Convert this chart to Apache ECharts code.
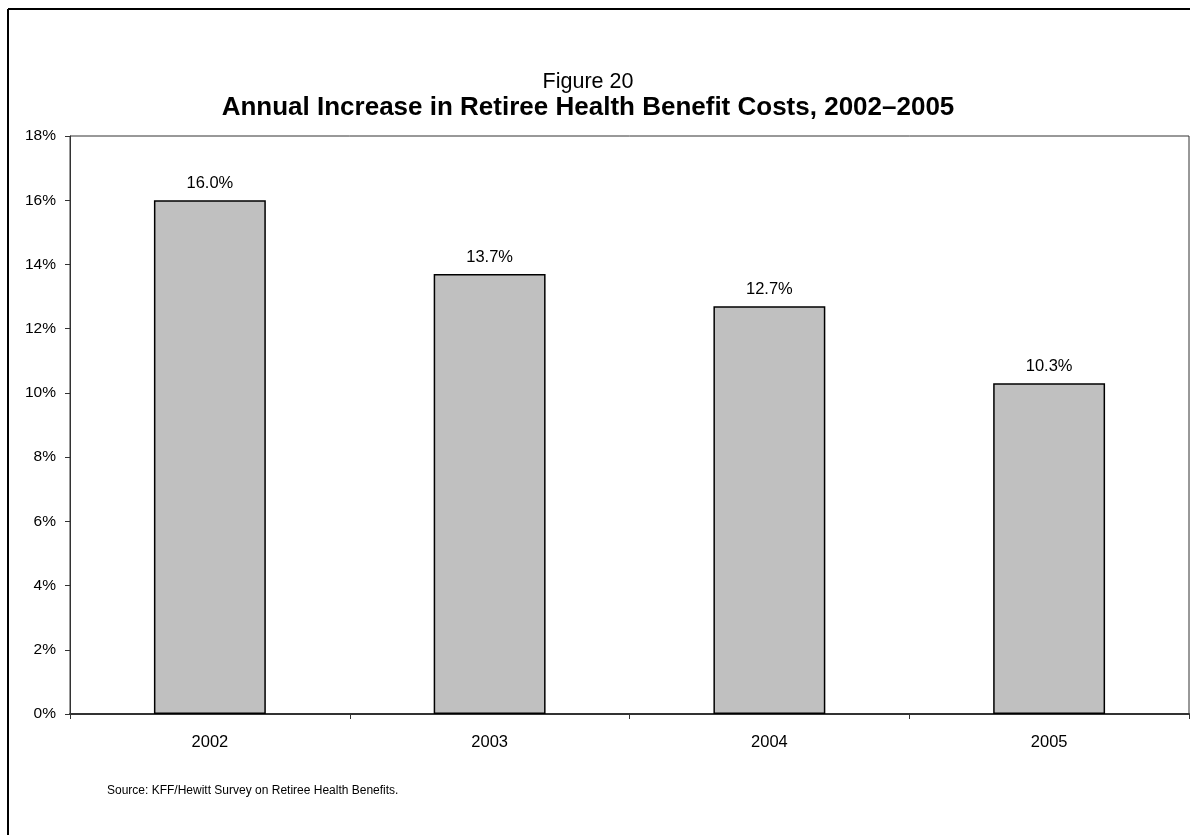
<!DOCTYPE html>
<html><head><meta charset="utf-8">
<script src="https://cdn.jsdelivr.net/npm/echarts@6/dist/echarts.min.js"></script>
<style>html,body{margin:0;padding:0;background:#fff}#c{width:1190px;height:835px}</style>
</head><body><div id="c"></div>
<script>
const categories = ['2002', '2003', '2004', '2005'];
const values = [16.0, 13.7, 12.7, 10.3];
const yTicks = [0, 2, 4, 6, 8, 10, 12, 14, 16, 18];
const titleLine1 = 'Figure 20';
const titleLine2 = 'Annual Increase in Retiree Health Benefit Costs, 2002\u20132005';
const sourceText = 'Source: KFF/Hewitt Survey on Retiree Health Benefits.';

const FONT = '"Liberation Sans", Arial, Helvetica, sans-serif';
const chart = echarts.init(document.getElementById('c'), null, {renderer: 'canvas'});
chart.setOption({
  animation: false,
  backgroundColor: '#fff',
  textStyle: {fontFamily: FONT},
  graphic: [
    {type: 'line', shape: {x1: 8, y1: 9, x2: 1190, y2: 9}, style: {stroke: '#000', lineWidth: 2}},
    {type: 'line', shape: {x1: 8, y1: 9, x2: 8, y2: 835}, style: {stroke: '#000', lineWidth: 2}},
    {type: 'text', left: 107, top: 785, style: {text: sourceText, font: '12px ' + FONT, fill: '#000'}}
  ],
  title: [
    {text: titleLine1, left: 583, top: 66, textAlign: 'center',
     textStyle: {fontSize: 21.5, fontWeight: 'normal', color: '#000', fontFamily: FONT}},
    {text: titleLine2, left: 583, top: 90, textAlign: 'center',
     textStyle: {fontSize: 26, fontWeight: 'bold', color: '#000', fontFamily: FONT}}
  ],
  grid: {left: 70, right: 1, top: 136, bottom: 121, show: true, borderColor: '#333', borderWidth: 1, backgroundColor: 'transparent'},
  xAxis: {
    type: 'category', data: categories,
    axisLine: {lineStyle: {color: '#333', width: 2}},
    axisTick: {show: true, alignWithLabel: false, length: 5, lineStyle: {color: '#333'}},
    axisLabel: {color: '#000', fontSize: 16.5, margin: 20, fontFamily: FONT},
    splitLine: {show: false}
  },
  yAxis: {
    type: 'value', min: yTicks[0], max: yTicks[yTicks.length - 1], interval: 2,
    axisLine: {show: true, lineStyle: {color: '#333', width: 1}},
    axisTick: {show: true, length: 5, lineStyle: {color: '#333'}},
    axisLabel: {color: '#000', fontSize: 15.5, margin: 14, formatter: v => v + '%', fontFamily: FONT},
    splitLine: {show: false}
  },
  series: [{
    type: 'bar', data: values, barWidth: '40%',
    itemStyle: {color: '#c0c0c0', borderColor: '#000', borderWidth: 1.5},
    label: {show: true, position: 'top', distance: 8, color: '#000', fontSize: 16.5, fontFamily: FONT,
            formatter: p => p.value.toFixed(1) + '%'}
  }]
});
</script></body></html>
